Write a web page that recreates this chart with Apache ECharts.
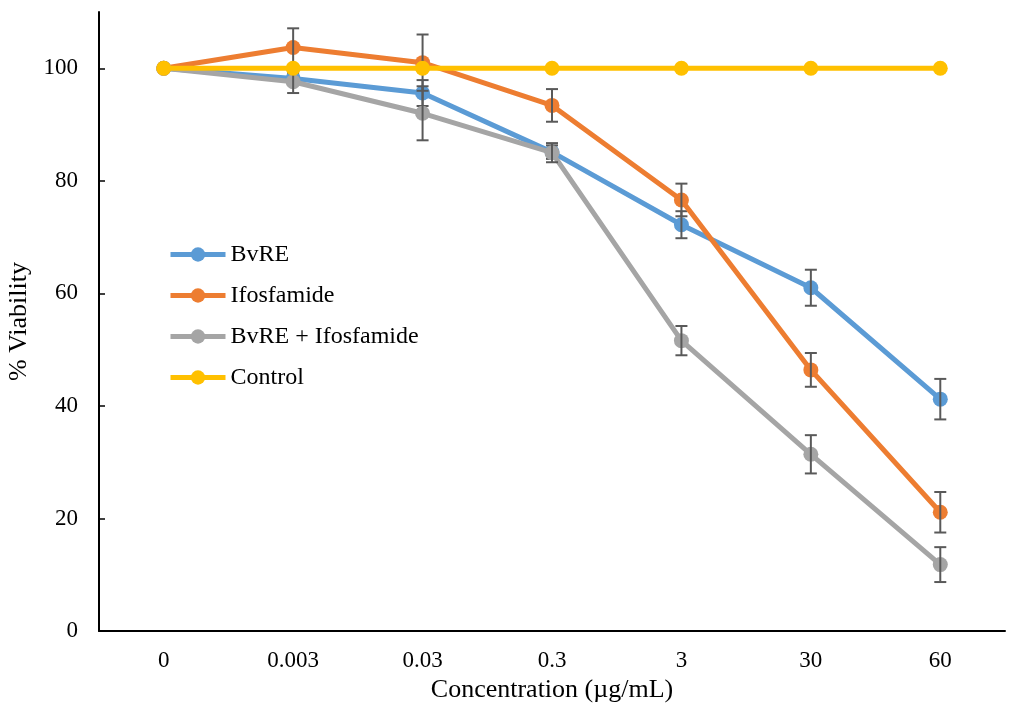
<!DOCTYPE html>
<html>
<head>
<meta charset="utf-8">
<style>
html,body{margin:0;padding:0;background:#fff;}
#main{width:1010px;height:704px;}
</style>
</head>
<body>
<div id="main"></div>
<script src="https://cdn.jsdelivr.net/npm/echarts@6/dist/echarts.min.js"></script>
<script type="text/javascript">
var categories = ['0', '0.003', '0.03', '0.3', '3', '30', '60'];
var bvre = [100, 98.2, 95.6, 85.1, 72.2, 61.0, 41.2];
var bvreErr = [0, 1.0, 2.3, 1.2, 2.4, 3.2, 3.6];
var ifos = [100, 103.7, 101.0, 93.4, 76.6, 46.4, 21.1];
var ifosErr = [0, 3.4, 5.0, 2.9, 2.9, 3.0, 3.6];
var combo = [100, 97.6, 92.0, 85.0, 51.6, 31.4, 11.8];
var comboErr = [0, 2.0, 4.8, 1.7, 2.6, 3.4, 3.1];
var control = [100, 100, 100, 100, 100, 100, 100];
var yTicks = [0, 20, 40, 60, 80, 100];

var font = '"Liberation Serif", "Times New Roman", serif';

function errData(vals, errs){
    var out = [];
    for(var i = 0; i < vals.length; i++){
        if(errs[i] > 0){
            out.push([i, vals[i] - errs[i], vals[i] + errs[i]]);
        }
    }
    return out;
}

function errBars(vals, errs, z){
    return {
        type: 'custom',
        z: z,
        silent: true,
        renderItem: function(params, api){
            var lo = api.coord([api.value(0), api.value(1)]);
            var hi = api.coord([api.value(0), api.value(2)]);
            var w = 6;
            var st = {stroke: '#595959', lineWidth: 2};
            return {
                type: 'group',
                children: [
                    {type: 'line', shape: {x1: lo[0], y1: lo[1], x2: hi[0], y2: hi[1]}, style: st},
                    {type: 'line', shape: {x1: lo[0] - w, y1: lo[1], x2: lo[0] + w, y2: lo[1]}, style: st},
                    {type: 'line', shape: {x1: hi[0] - w, y1: hi[1], x2: hi[0] + w, y2: hi[1]}, style: st}
                ]
            };
        },
        encode: {x: 0, y: [1, 2]},
        data: errData(vals, errs)
    };
}

function lineSeries(name, vals, color, z){
    return {
        name: name,
        type: 'line',
        z: z,
        data: vals,
        symbol: 'circle',
        symbolSize: 15,
        lineStyle: {color: color, width: 5},
        itemStyle: {color: color},
        emphasis: {disabled: true}
    };
}

var myChart = echarts.init(document.getElementById('main'));
var option = {
    animation: false,
    backgroundColor: '#fff',
    grid: {left: 99, right: 5, top: 12, bottom: 73, outerBoundsMode: 'none', containLabel: false},
    legend: {
        orient: 'vertical',
        left: 168,
        top: 242,
        padding: 0,
        itemGap: 16,
        itemWidth: 55,
        itemHeight: 18,
        lineStyle: {width: 5},
        textStyle: {fontFamily: font, fontSize: 24, color: '#000', lineHeight: 25},
        data: ['BvRE', 'Ifosfamide', 'BvRE + Ifosfamide', 'Control']
    },
    xAxis: {
        type: 'category',
        data: categories,
        boundaryGap: true,
        name: 'Concentration (µg/mL)',
        nameLocation: 'middle',
        nameGap: 46,
        nameTextStyle: {fontFamily: font, fontSize: 26, color: '#000'},
        axisLine: {lineStyle: {color: '#000', width: 2}},
        axisTick: {inside: true, length: 6, lineStyle: {color: '#000', width: 1.5}},
        axisLabel: {fontFamily: font, fontSize: 23, color: '#000', margin: 18},
        splitLine: {show: false}
    },
    yAxis: {
        type: 'value',
        min: 0,
        max: 110,
        interval: 20,
        name: '% Viability',
        nameLocation: 'middle',
        nameGap: 61,
        nameTextStyle: {fontFamily: font, fontSize: 26, color: '#000'},
        axisLine: {show: true, lineStyle: {color: '#000', width: 2}},
        axisTick: {show: true, inside: true, length: 6, customValues: yTicks, lineStyle: {color: '#000', width: 1.5}},
        axisLabel: {fontFamily: font, fontSize: 23, color: '#000', margin: 21, customValues: yTicks},
        splitLine: {show: false}
    },
    series: [
        lineSeries('BvRE', bvre, '#5B9BD5', 2),
        errBars(bvre, bvreErr, 3),
        lineSeries('Ifosfamide', ifos, '#ED7D31', 4),
        errBars(ifos, ifosErr, 5),
        lineSeries('BvRE + Ifosfamide', combo, '#A5A5A5', 6),
        errBars(combo, comboErr, 7),
        lineSeries('Control', control, '#FFC000', 8)
    ]
};
myChart.setOption(option);
</script>
</body>
</html>
